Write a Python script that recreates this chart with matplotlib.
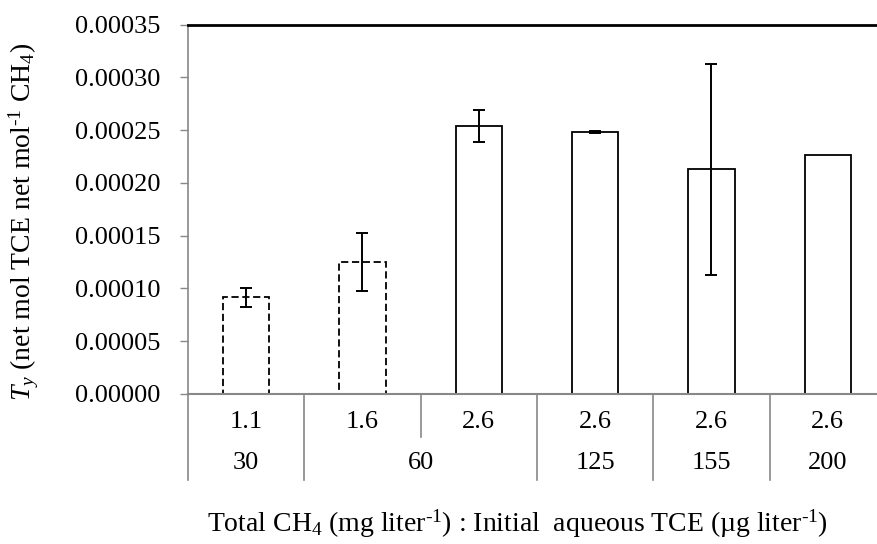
import numpy as np
import matplotlib
matplotlib.use("Agg")
import matplotlib.pyplot as plt
from matplotlib.transforms import blended_transform_factory

plt.rcParams["font.family"] = ["Liberation Serif", "DejaVu Serif"]
plt.rcParams["mathtext.fontset"] = "custom"
plt.rcParams["mathtext.rm"] = "Liberation Serif"
plt.rcParams["mathtext.it"] = "Liberation Serif:italic"

# CH4 (mg/L) and initial TCE (ug/L) for each bottle set
ch4_labels = ["1.1", "1.6", "2.6", "2.6", "2.6", "2.6"]
tce_labels = ["30", "60", "125", "155", "200"]
tce_spans = [(0, 1), (1, 3), (3, 4), (4, 5), (5, 6)]
ty_mean = [0.0000916, 0.0001254, 0.0002540, 0.0002483, 0.0002132, 0.0002265]
ty_err = [0.0000090, 0.0000275, 0.0000148, 0.0000006, 0.0001000, 0.0]
dashed = [True, True, False, False, False, False]

fig = plt.figure(figsize=(8.78, 5.44), dpi=100)
ax = fig.add_axes([188 / 878, 1 - 394 / 544, 698 / 878, 369.3 / 544])

x = np.arange(len(ty_mean)) + 0.5
for xi, h, e, d in zip(x, ty_mean, ty_err, dashed):
    ax.bar(xi, h, width=0.4, facecolor="white", edgecolor="black",
           linewidth=1.3, linestyle=(0, (4, 2)) if d else "-", zorder=2)
    if e > 0:
        ax.errorbar(xi, h, yerr=e, fmt="none", ecolor="black",
                    elinewidth=1.4, capsize=4.5, capthick=1.4, zorder=3)

yt = np.arange(0, 0.000351, 0.00005)
ax.set_xlim(0, 6)
ax.set_ylim(0, 0.00035)
ax.set_yticks(yt)
ax.set_yticklabels([f"{v:.5f}" for v in yt])
ax.set_xticks([])
ax.tick_params(axis="y", labelsize=19, length=6, width=1, color="#888888",
               direction="out", pad=14)

ax.spines["right"].set_visible(False)
ax.spines["left"].set_color("#888888")
ax.spines["left"].set_linewidth(1.2)
ax.spines["bottom"].set_color("#888888")
ax.spines["bottom"].set_linewidth(1.5)
ax.spines["top"].set_color("black")
ax.spines["top"].set_linewidth(2)

ax.set_ylabel(r"$T_y$ (net mol TCE net mol$^{\text{-}\mathregular{1}}$ CH$_{\mathregular{4}}$)",
              fontsize=20)
ax.yaxis.set_label_coords(-0.211, 0.466)

# two-row category axis below the bars
trans = blended_transform_factory(ax.transData, ax.transAxes)
for xs in [0, 1, 3, 4, 5, 6]:
    ax.plot([xs, xs], [0, -0.233], transform=trans, color="#888888",
            linewidth=1.2, clip_on=False)
ax.plot([2, 2], [0, -0.1164], transform=trans, color="#888888",
        linewidth=1.2, clip_on=False)
for xi, lab in zip(x, ch4_labels):
    ax.text(xi, -0.0758, lab, transform=trans, ha="center", va="center",
            fontsize=19)
for (a, b), lab in zip(tce_spans, tce_labels):
    ax.text((a + b) / 2, -0.187, lab, transform=trans, ha="center",
            va="center", fontsize=19)

fig.text(207 / 878, 1 - 524 / 544,
         r"Total CH$_{\mathregular{4}}$ (mg liter$^{\text{-}\mathregular{1}}$) : Initial  aqueous TCE (µg liter$^{\text{-}\mathregular{1}}$)",
         ha="left", va="center", fontsize=20)

fig.savefig("out.png", dpi=100)
